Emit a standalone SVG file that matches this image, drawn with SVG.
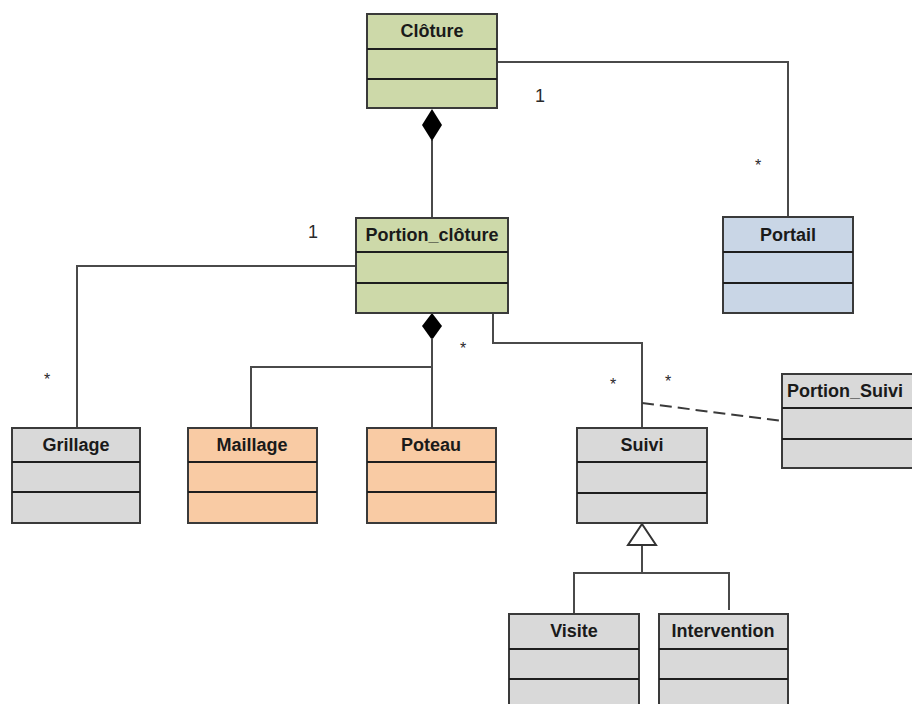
<svg xmlns="http://www.w3.org/2000/svg" width="912" height="704" viewBox="0 0 912 704">
  <style>
    .box { stroke: #3a3a3a; stroke-width: 2; }
    .div { stroke: #1e1e1e; stroke-width: 2; fill: none; }
    .green { fill: #cdd9a9; }
    .blue { fill: #c9d6e6; }
    .grey { fill: #d9d9d9; }
    .orange { fill: #f9cba4; }
    .title { font-family: "Liberation Sans", Arial, sans-serif; font-weight: bold; font-size: 18px; fill: #1a1a1a; text-anchor: middle; }
    .mult { font-family: "Liberation Sans", Arial, sans-serif; font-size: 18px; fill: #2a2a2a; text-anchor: middle; }
    .star { font-family: "Liberation Sans", Arial, sans-serif; font-size: 16px; fill: #2a2a2a; text-anchor: middle; }
    .conn { stroke: #4a4a4a; stroke-width: 2; fill: none; }
    .dash { stroke: #3a3a3a; stroke-width: 2; fill: none; stroke-dasharray: 12 6; }
    .comp { fill: #000; stroke: none; }
    .gen { fill: #fff; stroke: #333; stroke-width: 2; }
  </style>
  <rect width="912" height="704" fill="#fff"/>

  <!-- connectors -->
  <g id="connectors">
    <!-- Clôture ◆— Portion_clôture -->
    <line class="conn" x1="432" y1="140" x2="432" y2="218"/>
    <polygon class="comp" points="432,109 442,125 432,141 422,125"/>
    <!-- Clôture — Portail -->
    <polyline class="conn" points="497,62 788,62 788,217"/>
    <!-- Portion_clôture — Grillage -->
    <polyline class="conn" points="356,266 77,266 77,428"/>
    <!-- Portion_clôture ◆— Maillage / Poteau -->
    <polygon class="comp" points="432,313 442,326 432,340 422,326"/>
    <line class="conn" x1="432" y1="338" x2="432" y2="428"/>
    <polyline class="conn" points="432,367 251,367 251,428"/>
    <!-- Portion_clôture — Suivi -->
    <polyline class="conn" points="493,313 493,343 642,343 642,428"/>
    <!-- association class link -->
    <line class="dash" x1="642" y1="403" x2="782" y2="421"/>
    <!-- generalisation Suivi <|— Visite / Intervention -->
    <polyline class="conn" points="574,614 574,573 729,573 729,610"/>
    <line class="conn" x1="642" y1="545" x2="642" y2="573"/>
    <polygon class="gen" points="642,524 656,545 628,545"/>
  </g>

  <!-- multiplicities -->
  <text class="mult" x="540" y="102">1</text>
  <text class="star" x="758" y="171">*</text>
  <text class="mult" x="313" y="238">1</text>
  <text class="star" x="47" y="385">*</text>
  <text class="star" x="463" y="354">*</text>
  <text class="star" x="613" y="390">*</text>
  <text class="star" x="668" y="387">*</text>

  <g id="cloture">
    <rect class="box green" x="367" y="14" width="130" height="94"/>
    <line class="div" x1="367" y1="49" x2="497" y2="49"/>
    <line class="div" x1="367" y1="79" x2="497" y2="79"/>
    <text class="title" x="432" y="37">Clôture</text>
  </g>

  <g id="portion_cloture">
    <rect class="box green" x="356" y="218" width="152" height="95"/>
    <line class="div" x1="356" y1="252" x2="508" y2="252"/>
    <line class="div" x1="356" y1="283" x2="508" y2="283"/>
    <text class="title" x="432" y="241">Portion_clôture</text>
  </g>

  <g id="portail">
    <rect class="box blue" x="723" y="217" width="130" height="96"/>
    <line class="div" x1="723" y1="252" x2="853" y2="252"/>
    <line class="div" x1="723" y1="283" x2="853" y2="283"/>
    <text class="title" x="788" y="241">Portail</text>
  </g>

  <g id="grillage">
    <rect class="box grey" x="12" y="428" width="128" height="95"/>
    <line class="div" x1="12" y1="462" x2="140" y2="462"/>
    <line class="div" x1="12" y1="492" x2="140" y2="492"/>
    <text class="title" x="76" y="451">Grillage</text>
  </g>

  <g id="maillage">
    <rect class="box orange" x="188" y="428" width="129" height="95"/>
    <line class="div" x1="188" y1="462" x2="317" y2="462"/>
    <line class="div" x1="188" y1="492" x2="317" y2="492"/>
    <text class="title" x="252" y="451">Maillage</text>
  </g>

  <g id="poteau">
    <rect class="box orange" x="367" y="428" width="129" height="95"/>
    <line class="div" x1="367" y1="462" x2="496" y2="462"/>
    <line class="div" x1="367" y1="492" x2="496" y2="492"/>
    <text class="title" x="431" y="451">Poteau</text>
  </g>

  <g id="suivi">
    <rect class="box grey" x="577" y="428" width="130" height="95"/>
    <line class="div" x1="577" y1="462" x2="707" y2="462"/>
    <line class="div" x1="577" y1="493" x2="707" y2="493"/>
    <text class="title" x="642" y="451">Suivi</text>
  </g>

  <g id="portion_suivi">
    <rect class="box grey" x="782" y="374" width="134" height="94"/>
    <line class="div" x1="782" y1="408" x2="916" y2="408"/>
    <line class="div" x1="782" y1="439" x2="916" y2="439"/>
    <text class="title" x="845" y="397">Portion_Suivi</text>
  </g>

  <g id="visite">
    <rect class="box grey" x="509" y="614" width="130" height="96"/>
    <line class="div" x1="509" y1="649" x2="639" y2="649"/>
    <line class="div" x1="509" y1="679" x2="639" y2="679"/>
    <text class="title" x="574" y="637">Visite</text>
  </g>

  <g id="intervention">
    <rect class="box grey" x="659" y="614" width="129" height="96"/>
    <line class="div" x1="659" y1="649" x2="788" y2="649"/>
    <line class="div" x1="659" y1="679" x2="788" y2="679"/>
    <text class="title" x="723" y="637">Intervention</text>
  </g>
</svg>
